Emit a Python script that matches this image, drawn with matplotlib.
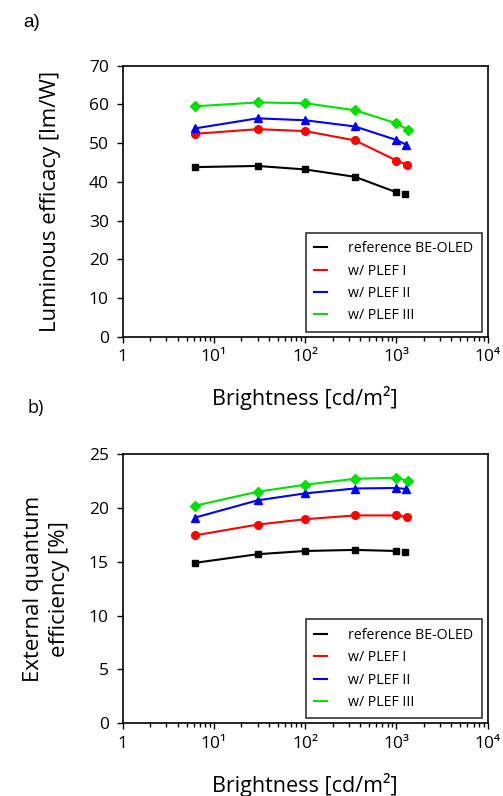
import matplotlib
matplotlib.use("Agg")
import matplotlib.pyplot as plt
from matplotlib.lines import Line2D
from matplotlib.ticker import LogLocator, FixedLocator, FixedFormatter, NullFormatter

# brightness points (cd/m^2) per device
bright_ref = [6.2, 30, 100, 350, 1000, 1250]
bright_p1 = [6.2, 30, 100, 350, 1000, 1300]
bright_p2 = [6.2, 30, 100, 350, 1000, 1280]
bright_p3 = [6.2, 30, 100, 350, 1000, 1350]

# luminous efficacy (lm/W)
le_ref = [43.8, 44.1, 43.2, 41.3, 37.3, 36.9]
le_p1 = [52.4, 53.6, 53.1, 50.7, 45.5, 44.4]
le_p2 = [53.8, 56.4, 55.9, 54.3, 50.8, 49.6]
le_p3 = [59.5, 60.5, 60.3, 58.5, 55.1, 53.4]

# external quantum efficiency (%)
eqe_ref = [14.9, 15.7, 16.0, 16.1, 16.0, 15.9]
eqe_p1 = [17.45, 18.45, 18.95, 19.3, 19.3, 19.15]
eqe_p2 = [19.1, 20.7, 21.35, 21.8, 21.85, 21.75]
eqe_p3 = [20.2, 21.5, 22.15, 22.7, 22.8, 22.5]

labels = ["reference BE-OLED", "w/ PLEF I", "w/ PLEF II", "w/ PLEF III"]
xtick_labels = ["1", "10¹", "10²", "10³", "10⁴"]
colors = ["black", "#ff0000", "#0000ff", "#00e000"]
markers = ["s", "o", "^", "D"]
msizes = [5, 5.5, 6, 5]

FONT = ["Open Sans", "DejaVu Sans"]
plt.rcParams["font.family"] = FONT

fig = plt.figure(figsize=(5.03, 7.96), dpi=100)
ax_a = fig.add_axes([0.244, 0.577, 0.7256, 0.3405])
ax_b = fig.add_axes([0.244, 0.0913, 0.7256, 0.3383])


def draw_panel(ax, xs, ys, ymax, ystep):
    for i, (x, y) in enumerate(zip(xs, ys)):
        # reference line stops at 1000 cd/m^2, last point is marker only
        n = 5 if i == 0 else len(x)
        ax.plot(x[:n], y[:n], color=colors[i], lw=1.5)
        ax.plot(x, y, ls="none", marker=markers[i], ms=msizes[i],
                color=colors[i], mec=colors[i])
    ax.set_xscale("log")
    ax.set_xlim(1, 1e4)
    ax.set_ylim(0, ymax)
    ax.xaxis.set_major_locator(FixedLocator([1, 10, 100, 1000, 10000]))
    ax.xaxis.set_major_formatter(FixedFormatter(xtick_labels))
    ax.xaxis.set_minor_locator(LogLocator(base=10, subs=range(2, 10)))
    ax.xaxis.set_minor_formatter(NullFormatter())
    ax.set_yticks(range(0, ymax + 1, ystep))
    ax.tick_params(axis="both", which="major", direction="out", length=4,
                   width=1, labelsize=12.5, pad=6)
    ax.tick_params(axis="x", which="minor", direction="out", length=3, width=1)
    ax.tick_params(axis="x", which="major", pad=5)
    for sp in ax.spines.values():
        sp.set_linewidth(1.2)
    ax.set_xlabel("Brightness [cd/m²]", fontsize=15.5, labelpad=15)
    handles = [Line2D([], [], color=c, lw=1.5) for c in colors]
    leg = ax.legend(handles, labels, loc="lower right", fontsize=10.2,
                    handlelength=0.9, handletextpad=1.5, labelspacing=0.52,
                    frameon=True, fancybox=False, edgecolor="black",
                    borderpad=0.6, borderaxespad=0,
                    bbox_to_anchor=(0.984, 0.018))
    leg.get_frame().set_linewidth(1.2)


draw_panel(ax_a, [bright_ref, bright_p1, bright_p2, bright_p3],
           [le_ref, le_p1, le_p2, le_p3], 70, 10)
ax_a.set_ylabel("Luminous efficacy [lm/W]", fontsize=16)
ax_a.yaxis.set_label_coords(-0.17, 0.5)

draw_panel(ax_b, [bright_ref, bright_p1, bright_p2, bright_p3],
           [eqe_ref, eqe_p1, eqe_p2, eqe_p3], 25, 5)
ax_b.set_ylabel("External quantum\nefficiency [%]", fontsize=16,
                linespacing=1.35)
ax_b.yaxis.set_label_coords(-0.144, 0.5)

fig.text(0.046, 0.972, "a)", fontsize=13.5, family="Liberation Sans", va="center")
fig.text(0.054, 0.487, "b)", fontsize=13, va="center")

fig.savefig("out.png", dpi=100)
